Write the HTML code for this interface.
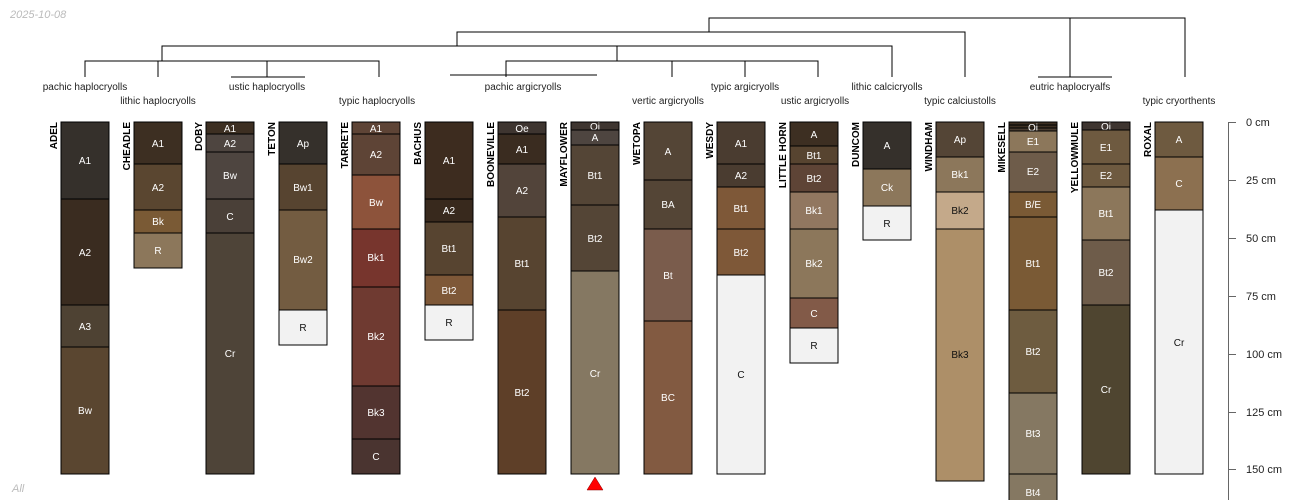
<!DOCTYPE html>
<html><head><meta charset="utf-8"><style>
html,body{margin:0;padding:0;background:#fff}
svg{display:block}
text{font-family:"Liberation Sans",sans-serif}
.h{font-size:10px;fill:#fff;text-anchor:middle}
.d{font-size:10px;fill:#111;text-anchor:middle}
.n{font-size:10px;font-weight:bold;fill:#000;text-anchor:end}
.t{font-size:10px;fill:#222;text-anchor:middle}
.a{font-size:11px;fill:#222}
rect{stroke:#000;stroke-width:1}
.dl{stroke:#000;stroke-width:1;fill:none}
</style></head><body>
<svg width="1300" height="500" viewBox="0 0 1300 500" xmlns="http://www.w3.org/2000/svg">
<text x="10" y="18" font-size="11" font-style="italic" fill="#bbb">2025-10-08</text>
<text x="12" y="492" font-size="11" font-style="italic" fill="#bbb">All</text>

<!-- dendrogram -->
<g class="dl">
<path d="M709 32V18H1185V77"/>
<path d="M1070 18V77M1038 77H1112"/>
<path d="M457 46V32H965V77"/>
<path d="M162 61V46H892V77"/>
<path d="M617 46V61"/>
<path d="M85 77V61H379V77M158 61V77M267 61V77M231 77H305"/>
<path d="M506 77V61H818V77M672 61V77M745 61V77M450 75H597"/>
</g>
<text class="t" x="85" y="90">pachic haplocryolls</text>
<text class="t" x="267" y="90">ustic haplocryolls</text>
<text class="t" x="523" y="90">pachic argicryolls</text>
<text class="t" x="745" y="90">typic argicryolls</text>
<text class="t" x="887" y="90">lithic calcicryolls</text>
<text class="t" x="1070" y="90">eutric haplocryalfs</text>
<text class="t" x="158" y="104">lithic haplocryolls</text>
<text class="t" x="377" y="104">typic haplocryolls</text>
<text class="t" x="668" y="104">vertic argicryolls</text>
<text class="t" x="815" y="104">ustic argicryolls</text>
<text class="t" x="960" y="104">typic calciustolls</text>
<text class="t" x="1179" y="104">typic cryorthents</text>

<!-- names -->
<text class="n" transform="translate(57,122) rotate(-90)">ADEL</text>
<text class="n" transform="translate(130,122) rotate(-90)">CHEADLE</text>
<text class="n" transform="translate(202,122) rotate(-90)">DOBY</text>
<text class="n" transform="translate(275,122) rotate(-90)">TETON</text>
<text class="n" transform="translate(348,122) rotate(-90)">TARRETE</text>
<text class="n" transform="translate(421,122) rotate(-90)">BACHUS</text>
<text class="n" transform="translate(494,122) rotate(-90)">BOONEVILLE</text>
<text class="n" transform="translate(567,122) rotate(-90)">MAYFLOWER</text>
<text class="n" transform="translate(640,122) rotate(-90)">WETOPA</text>
<text class="n" transform="translate(713,122) rotate(-90)">WESDY</text>
<text class="n" transform="translate(786,122) rotate(-90)">LITTLE HORN</text>
<text class="n" transform="translate(859,122) rotate(-90)">DUNCOM</text>
<text class="n" transform="translate(932,122) rotate(-90)">WINDHAM</text>
<text class="n" transform="translate(1005,122) rotate(-90)">MIKESELL</text>
<text class="n" transform="translate(1078,122) rotate(-90)">YELLOWMULE</text>
<text class="n" transform="translate(1151,122) rotate(-90)">ROXAL</text>

<!-- ADEL -->
<rect x="61" y="122" width="48" height="77" fill="#35302b"/><text class="h" x="85" y="164">A1</text>
<rect x="61" y="199" width="48" height="106" fill="#3a2c20"/><text class="h" x="85" y="256">A2</text>
<rect x="61" y="305" width="48" height="42" fill="#4e4233"/><text class="h" x="85" y="330">A3</text>
<rect x="61" y="347" width="48" height="127" fill="#5a4630"/><text class="h" x="85" y="414">Bw</text>
<!-- CHEADLE -->
<rect x="134" y="122" width="48" height="42" fill="#3d2f22"/><text class="h" x="158" y="147">A1</text>
<rect x="134" y="164" width="48" height="46" fill="#5a4630"/><text class="h" x="158" y="191">A2</text>
<rect x="134" y="210" width="48" height="23" fill="#7a5a35"/><text class="h" x="158" y="225">Bk</text>
<rect x="134" y="233" width="48" height="35" fill="#8c775b"/><text class="h" x="158" y="254">R</text>
<!-- DOBY -->
<rect x="206" y="122" width="48" height="12" fill="#3d2f22"/><text class="h" x="230" y="132">A1</text>
<rect x="206" y="134" width="48" height="18" fill="#4e4540"/><text class="h" x="230" y="147">A2</text>
<rect x="206" y="152" width="48" height="47" fill="#4e4540"/><text class="h" x="230" y="179">Bw</text>
<rect x="206" y="199" width="48" height="34" fill="#4a4038"/><text class="h" x="230" y="220">C</text>
<rect x="206" y="233" width="48" height="241" fill="#4e4438"/><text class="h" x="230" y="357">Cr</text>
<!-- TETON -->
<rect x="279" y="122" width="48" height="42" fill="#35302b"/><text class="h" x="303" y="147">Ap</text>
<rect x="279" y="164" width="48" height="46" fill="#574430"/><text class="h" x="303" y="191">Bw1</text>
<rect x="279" y="210" width="48" height="100" fill="#735c41"/><text class="h" x="303" y="263">Bw2</text>
<rect x="279" y="310" width="48" height="35" fill="#f2f2f2"/><text class="d" x="303" y="331">R</text>
<!-- TARRETE -->
<rect x="352" y="122" width="48" height="12" fill="#5e4436"/><text class="h" x="376" y="132">A1</text>
<rect x="352" y="134" width="48" height="41" fill="#5e4436"/><text class="h" x="376" y="158">A2</text>
<rect x="352" y="175" width="48" height="54" fill="#8d533b"/><text class="h" x="376" y="206">Bw</text>
<rect x="352" y="229" width="48" height="58" fill="#77352d"/><text class="h" x="376" y="261">Bk1</text>
<rect x="352" y="287" width="48" height="99" fill="#6f3a31"/><text class="h" x="376" y="340">Bk2</text>
<rect x="352" y="386" width="48" height="53" fill="#523430"/><text class="h" x="376" y="416">Bk3</text>
<rect x="352" y="439" width="48" height="35" fill="#4a3430"/><text class="h" x="376" y="460">C</text>
<!-- BACHUS -->
<rect x="425" y="122" width="48" height="77" fill="#3d2c1f"/><text class="h" x="449" y="164">A1</text>
<rect x="425" y="199" width="48" height="23" fill="#38291d"/><text class="h" x="449" y="214">A2</text>
<rect x="425" y="222" width="48" height="53" fill="#574430"/><text class="h" x="449" y="252">Bt1</text>
<rect x="425" y="275" width="48" height="30" fill="#7e5838"/><text class="h" x="449" y="294">Bt2</text>
<rect x="425" y="305" width="48" height="35" fill="#f2f2f2"/><text class="d" x="449" y="326">R</text>
<!-- BOONEVILLE -->
<rect x="498" y="122" width="48" height="12" fill="#3e3530"/><text class="h" x="522" y="132">Oe</text>
<rect x="498" y="134" width="48" height="30" fill="#3a2c20"/><text class="h" x="522" y="153">A1</text>
<rect x="498" y="164" width="48" height="53" fill="#52443a"/><text class="h" x="522" y="194">A2</text>
<rect x="498" y="217" width="48" height="93" fill="#574430"/><text class="h" x="522" y="267">Bt1</text>
<rect x="498" y="310" width="48" height="164" fill="#5e3f28"/><text class="h" x="522" y="396">Bt2</text>
<!-- MAYFLOWER -->
<rect x="571" y="122" width="48" height="8" fill="#3e3530"/><text class="h" x="595" y="130">Oi</text>
<rect x="571" y="130" width="48" height="15" fill="#4e4540"/><text class="h" x="595" y="141">A</text>
<rect x="571" y="145" width="48" height="60" fill="#544536"/><text class="h" x="595" y="179">Bt1</text>
<rect x="571" y="205" width="48" height="66" fill="#544536"/><text class="h" x="595" y="242">Bt2</text>
<rect x="571" y="271" width="48" height="203" fill="#857862"/><text class="h" x="595" y="377">Cr</text>
<path d="M587 490L595 477L603 490Z" fill="#f00" stroke="#800" stroke-width="0.5"/>
<!-- WETOPA -->
<rect x="644" y="122" width="48" height="58" fill="#544536"/><text class="h" x="668" y="155">A</text>
<rect x="644" y="180" width="48" height="49" fill="#544536"/><text class="h" x="668" y="208">BA</text>
<rect x="644" y="229" width="48" height="92" fill="#7a5c4c"/><text class="h" x="668" y="279">Bt</text>
<rect x="644" y="321" width="48" height="153" fill="#825a41"/><text class="h" x="668" y="401">BC</text>
<!-- WESDY -->
<rect x="717" y="122" width="48" height="42" fill="#4a3c30"/><text class="h" x="741" y="147">A1</text>
<rect x="717" y="164" width="48" height="23" fill="#4a3c30"/><text class="h" x="741" y="179">A2</text>
<rect x="717" y="187" width="48" height="42" fill="#7e5838"/><text class="h" x="741" y="212">Bt1</text>
<rect x="717" y="229" width="48" height="46" fill="#7e5838"/><text class="h" x="741" y="256">Bt2</text>
<rect x="717" y="275" width="48" height="199" fill="#f2f2f2"/><text class="d" x="741" y="378">C</text>
<!-- LITTLE HORN -->
<rect x="790" y="122" width="48" height="24" fill="#3d2f22"/><text class="h" x="814" y="138">A</text>
<rect x="790" y="146" width="48" height="18" fill="#574430"/><text class="h" x="814" y="159">Bt1</text>
<rect x="790" y="164" width="48" height="28" fill="#5e4436"/><text class="h" x="814" y="182">Bt2</text>
<rect x="790" y="192" width="48" height="37" fill="#917760"/><text class="h" x="814" y="214">Bk1</text>
<rect x="790" y="229" width="48" height="69" fill="#8c775b"/><text class="h" x="814" y="267">Bk2</text>
<rect x="790" y="298" width="48" height="30" fill="#825a48"/><text class="h" x="814" y="317">C</text>
<rect x="790" y="328" width="48" height="35" fill="#f2f2f2"/><text class="d" x="814" y="349">R</text>
<!-- DUNCOM -->
<rect x="863" y="122" width="48" height="47" fill="#35302b"/><text class="h" x="887" y="149">A</text>
<rect x="863" y="169" width="48" height="37" fill="#8c775b"/><text class="h" x="887" y="191">Ck</text>
<rect x="863" y="206" width="48" height="34" fill="#f2f2f2"/><text class="d" x="887" y="227">R</text>
<!-- WINDHAM -->
<rect x="936" y="122" width="48" height="35" fill="#544536"/><text class="h" x="960" y="143">Ap</text>
<rect x="936" y="157" width="48" height="35" fill="#8c775b"/><text class="h" x="960" y="178">Bk1</text>
<rect x="936" y="192" width="48" height="37" fill="#c4a98a"/><text class="d" x="960" y="214">Bk2</text>
<rect x="936" y="229" width="48" height="252" fill="#ad8f68"/><text class="d" x="960" y="358">Bk3</text>
<!-- MIKESELL -->
<rect x="1009" y="122" width="48" height="3" fill="#3d2f22"/>
<rect x="1009" y="125" width="48" height="3" fill="#3d2f22"/>
<rect x="1009" y="128" width="48" height="3" fill="#4a3c30"/><text class="h" x="1033" y="131">Oi</text>
<rect x="1009" y="131" width="48" height="21" fill="#8c775b"/><text class="h" x="1033" y="145">E1</text>
<rect x="1009" y="152" width="48" height="40" fill="#6e5c4a"/><text class="h" x="1033" y="175">E2</text>
<rect x="1009" y="192" width="48" height="25" fill="#7a5a35"/><text class="h" x="1033" y="208">B/E</text>
<rect x="1009" y="217" width="48" height="93" fill="#7a5a35"/><text class="h" x="1033" y="267">Bt1</text>
<rect x="1009" y="310" width="48" height="83" fill="#6e5c40"/><text class="h" x="1033" y="355">Bt2</text>
<rect x="1009" y="393" width="48" height="81" fill="#857862"/><text class="h" x="1033" y="437">Bt3</text>
<rect x="1009" y="474" width="48" height="30" fill="#857862"/><text class="h" x="1033" y="496">Bt4</text>
<!-- YELLOWMULE -->
<rect x="1082" y="122" width="48" height="8" fill="#3e3530"/><text class="h" x="1106" y="130">Oi</text>
<rect x="1082" y="130" width="48" height="34" fill="#6e5a40"/><text class="h" x="1106" y="151">E1</text>
<rect x="1082" y="164" width="48" height="23" fill="#6e5a40"/><text class="h" x="1106" y="179">E2</text>
<rect x="1082" y="187" width="48" height="53" fill="#8c775b"/><text class="h" x="1106" y="217">Bt1</text>
<rect x="1082" y="240" width="48" height="65" fill="#6e5c4a"/><text class="h" x="1106" y="276">Bt2</text>
<rect x="1082" y="305" width="48" height="169" fill="#4f4530"/><text class="h" x="1106" y="393">Cr</text>
<!-- ROXAL -->
<rect x="1155" y="122" width="48" height="35" fill="#6e5a40"/><text class="h" x="1179" y="143">A</text>
<rect x="1155" y="157" width="48" height="53" fill="#8c7050"/><text class="h" x="1179" y="187">C</text>
<rect x="1155" y="210" width="48" height="264" fill="#f2f2f2"/><text class="d" x="1179" y="346">Cr</text>

<!-- axis -->
<g stroke="#666" stroke-width="1">
<line x1="1228.5" y1="122" x2="1228.5" y2="500"/>
<line x1="1228" y1="122.5" x2="1236" y2="122.5"/>
<line x1="1228" y1="180.5" x2="1236" y2="180.5"/>
<line x1="1228" y1="238.5" x2="1236" y2="238.5"/>
<line x1="1228" y1="296.5" x2="1236" y2="296.5"/>
<line x1="1228" y1="354.5" x2="1236" y2="354.5"/>
<line x1="1228" y1="412.5" x2="1236" y2="412.5"/>
<line x1="1228" y1="469.5" x2="1236" y2="469.5"/>
</g>
<text class="a" x="1246" y="126">0 cm</text>
<text class="a" x="1246" y="184">25 cm</text>
<text class="a" x="1246" y="242">50 cm</text>
<text class="a" x="1246" y="300">75 cm</text>
<text class="a" x="1246" y="358">100 cm</text>
<text class="a" x="1246" y="416">125 cm</text>
<text class="a" x="1246" y="473">150 cm</text>
</svg>
</body></html>
